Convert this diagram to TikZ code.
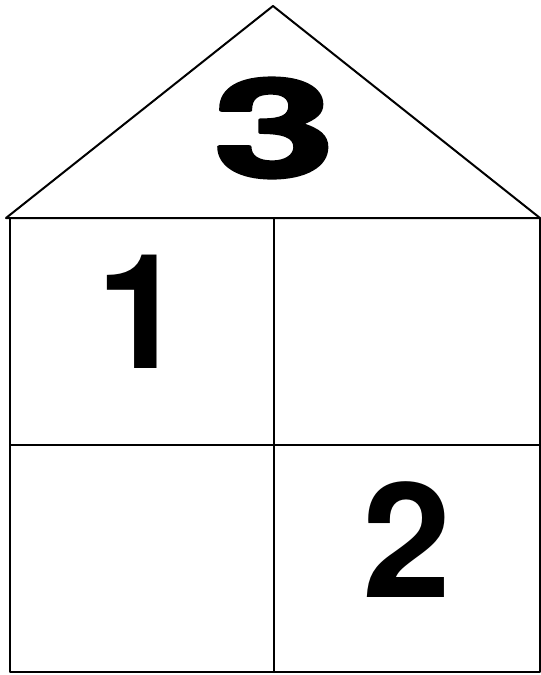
\documentclass[tikz,border=0pt]{standalone}
\usepackage{fontspec}
\setmainfont{TeX Gyre Heros}
\newfontfamily\heavyfont{TeX Gyre Heros}[BoldFeatures={FakeBold=2}]
\tikzset{
	wall/.style={line width=2pt, line join=round, line cap=round},
	digit/.style={inner sep=0pt, font=\bfseries\fontsize{160}{160}\selectfont},
}
\begin{document}
\begin{tikzpicture}[x=1pt, y=-1pt, line join=round, line cap=round, >=stealth]
			\useasboundingbox (0,0) rectangle (541,675);
			%%%%%%%%%%%%%%%%%%%%%%%%%%%%%%%%%
			\coordinate (T) at (273,6);
			\coordinate (L) at (6,218);
			\coordinate (R) at (540,218);
			\coordinate (A) at (10,218);
			\coordinate (B) at (10,672);
			\coordinate (C) at (540,672);
			\coordinate (M) at (274,218);
			\coordinate (N) at (274,672);
			\coordinate (P) at (10,445);
			\coordinate (Q) at (540,445);
			%%%%%%%%%%%%%%%%%%%%%%%%%%%%%%%%%
			\draw[wall] (L) -- (T) -- (R) -- (L);
			\draw[wall] (A) -- (B) -- (C) -- (R);
			\draw[wall] (M) -- (N);
			\draw[wall] (P) -- (Q);
			%%%%%%%%%%%%%%%%%%%%%%%%%%%%%%%%%
			\node[digit, xscale=1.6, font=\heavyfont\bfseries\fontsize{137}{137}\selectfont] (three) at (274,128) {3};
			\node[digit] (one) at (141,312) {1};
			\node[digit] (two) at (407,540) {2};
			%%%%%%%%%%%%%%%%%%%%%%%%%%%%%%%%%
		\end{tikzpicture}
\end{document}
